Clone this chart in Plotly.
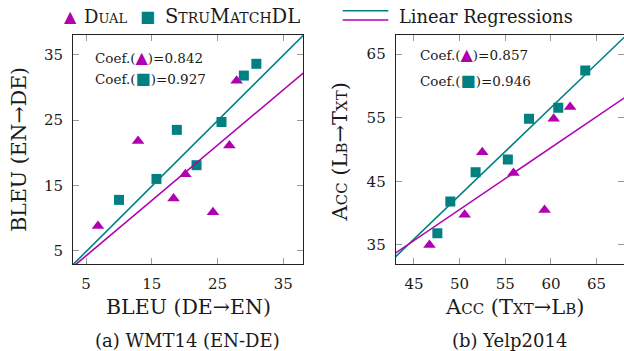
import plotly.graph_objects as go

# ---------------- data ----------------
# (a) WMT14 (EN-DE)
wmt_dual_x = [6.8, 12.9, 18.3, 20.1, 24.3, 26.8, 27.9]
wmt_dual_y = [8.8, 21.8, 13.0, 16.7, 10.9, 21.1, 31.0]
wmt_stru_x = [10.0, 15.7, 18.8, 21.8, 25.6, 29.0, 30.9]
wmt_stru_y = [12.8, 16.0, 23.5, 18.1, 24.7, 31.8, 33.6]
# regression lines (slope, intercept)
wmt_dual_fit = [0.845, 0.04]
wmt_stru_fit = [1.0, -0.1]
wmt_ticks = [5, 15, 25, 35]
wmt_range = [3, 38]
wmt_coef = ["0.842", "0.927"]

# (b) Yelp2014
yelp_dual_x = [46.7, 50.55, 52.48, 55.9, 59.3, 60.3, 62.1]
yelp_dual_y = [35.0, 39.74, 49.58, 46.3, 40.5, 54.84, 56.7]
yelp_stru_x = [47.56, 48.98, 51.75, 55.28, 57.6, 60.8, 63.76]
yelp_stru_y = [36.85, 41.84, 46.42, 48.43, 54.84, 56.58, 62.4]
yelp_dual_fit = [0.973, -8.09]
yelp_stru_fit = [1.378, -26.1]
yelp_xticks = [45, 50, 55, 60, 65]
yelp_yticks = [35, 45, 55, 65]
yelp_xrange = [43, 68]
yelp_yrange = [32, 68]
yelp_coef = ["0.857", "0.946"]

MAG = "#B000B0"
TEAL = "#008080"
TXT = "#1a1a1a"
FONT = "DejaVu Serif"

W, H = 624, 351

fig = go.Figure()


def add_panel(xa, ya, dx, dy, sx, sy, dfit, sfit, xr):
    fig.add_trace(go.Scatter(x=dx, y=dy, mode="markers", xaxis=xa, yaxis=ya,
                             marker=dict(symbol="triangle-up", size=11, color=MAG,
                                         line=dict(width=0)), showlegend=False))
    fig.add_trace(go.Scatter(x=sx, y=sy, mode="markers", xaxis=xa, yaxis=ya,
                             marker=dict(symbol="square", size=10, color=TEAL,
                                         line=dict(width=0)), showlegend=False))
    lx = [xr[0] - 1, xr[1] + 1]
    fig.add_trace(go.Scatter(x=lx, y=[sfit[0] * v + sfit[1] for v in lx], mode="lines",
                             xaxis=xa, yaxis=ya, line=dict(color=TEAL, width=1.6),
                             showlegend=False))
    fig.add_trace(go.Scatter(x=lx, y=[dfit[0] * v + dfit[1] for v in lx], mode="lines",
                             xaxis=xa, yaxis=ya, line=dict(color=MAG, width=1.6),
                             showlegend=False))


add_panel("x", "y", wmt_dual_x, wmt_dual_y, wmt_stru_x, wmt_stru_y,
          wmt_dual_fit, wmt_stru_fit, wmt_range)
add_panel("x2", "y2", yelp_dual_x, yelp_dual_y, yelp_stru_x, yelp_stru_y,
          yelp_dual_fit, yelp_stru_fit, yelp_xrange)

ax_common = dict(showgrid=False, zeroline=False, showline=True, linecolor="#222",
                 linewidth=1, mirror="ticks", ticks="inside", ticklen=6,
                 tickcolor="#9a9a9a", tickwidth=1,
                 tickfont=dict(family=FONT, size=15, color=TXT))

py0, py1 = 1 - 264 / H, 1 - 35 / H
fig.update_layout(
    width=W, height=H, margin=dict(l=0, r=0, t=0, b=0),
    plot_bgcolor="white", paper_bgcolor="white",
    font=dict(family=FONT, color=TXT),
    xaxis=dict(domain=[73 / W, 303 / W], range=wmt_range, tickvals=wmt_ticks,
               anchor="y", ticklabelstandoff=6, **ax_common),
    yaxis=dict(domain=[py0, py1], range=wmt_range, tickvals=wmt_ticks,
               anchor="x", ticklabelstandoff=6, **ax_common),
    xaxis2=dict(domain=[395.7 / W, 1.0], range=yelp_xrange, tickvals=yelp_xticks,
                anchor="y2", ticklabelstandoff=6, **ax_common),
    yaxis2=dict(domain=[py0, py1], range=yelp_yrange, tickvals=yelp_yticks,
                anchor="x2", ticklabelstandoff=6, **ax_common),
)

ann = []


def A(text, x, y, size, xanchor="center", angle=0, variant="normal"):
    ann.append(dict(text=text, x=x / W, y=1 - y / H, xref="paper", yref="paper",
                    xanchor=xanchor, yanchor="middle", showarrow=False, textangle=angle,
                    font=dict(family=FONT, size=size, color=TXT, variant=variant)))


# axis titles
A("BLEU (DE→EN)", 188, 307, 20.5)
A("Acc (Txt→Lb)", 514.7, 307, 21, variant="small-caps")
A("BLEU (EN→DE)", 18.3, 149.5, 20.5, angle=-90)
A("Acc (Lb→Txt)", 339.5, 152, 21, angle=-90, variant="small-caps")
# captions
A("(a) WMT14 (EN-DE)", 187.7, 340.5, 18)
A("(b) Yelp2014", 509, 340.5, 18)
# coef boxes
tri = f"<span style='color:{MAG};font-size:16px'>▲</span>"
sq = f"<span style='color:{TEAL};font-size:16px'>■</span>"
A(f"Coef.({tri})={wmt_coef[0]}", 93.3, 57.3, 13.5, xanchor="left")
A(f"Coef.({sq})={wmt_coef[1]}", 93.3, 79, 13.5, xanchor="left")
A(f"Coef.({tri})={yelp_coef[0]}", 418.3, 55, 13.5, xanchor="left")
A(f"Coef.({sq})={yelp_coef[1]}", 418.3, 80, 13.5, xanchor="left")
# legend
ann.append(dict(text="▲", x=70 / W, y=1 - 16 / H, xref="paper", yref="paper",
                showarrow=False, xanchor="center", yanchor="middle",
                font=dict(family=FONT, size=16, color=MAG)))
ann.append(dict(text="■", x=147 / W, y=1 - 16 / H, xref="paper", yref="paper",
                showarrow=False, xanchor="center", yanchor="middle",
                font=dict(family=FONT, size=16, color=TEAL)))
A("Dual", 82, 16, 18, xanchor="left", variant="small-caps")
A("StruMatchDL", 163, 16, 19.5, xanchor="left", variant="small-caps")
A("Linear Regressions", 396.7, 16, 17.8, xanchor="left")
fig.update_layout(annotations=ann)

fig.add_shape(type="line", xref="paper", yref="paper", x0=342.7 / W, x1=388.3 / W,
              y0=1 - 10.7 / H, y1=1 - 10.7 / H, line=dict(color=TEAL, width=1.6))
fig.add_shape(type="line", xref="paper", yref="paper", x0=342.7 / W, x1=388.3 / W,
              y0=1 - 20 / H, y1=1 - 20 / H, line=dict(color=MAG, width=1.6))

fig.write_html("out.html", config={"displayModeBar": False},
               post_script="document.body.style.margin='0';document.body.style.overflow='hidden';")
